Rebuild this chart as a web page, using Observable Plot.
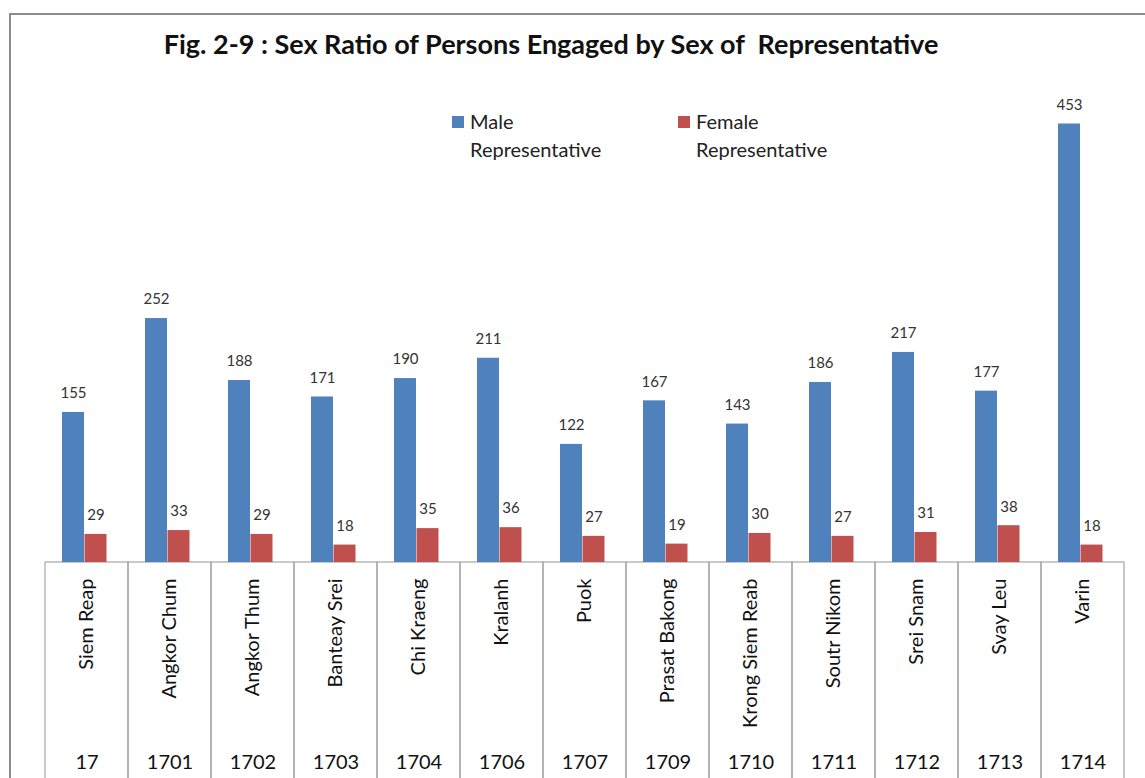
<!DOCTYPE html>
<html>
<head>
<meta charset="utf-8">
<script src="https://cdn.jsdelivr.net/npm/d3@7"></script>
<script src="https://cdn.jsdelivr.net/npm/@observablehq/plot@0.6"></script>
<style>
  html, body { margin: 0; padding: 0; background: #fff; }
  #wrap { position: relative; width: 1145px; height: 778px; overflow: hidden; font-family: Lato, "Open Sans", sans-serif; }
  #frame { position: absolute; left: 9px; top: 13px; width: 1300px; height: 900px; border-left: 2px solid #8c8c8c; border-top: 2px solid #8c8c8c; }
  #title { position: absolute; left: 0; width: 1102px; top: 27px; text-align: center; font-weight: bold; font-size: 27px; color: #111; white-space: pre; }
  .leg { position: absolute; top: 107px; font-size: 20px; color: #222; line-height: 28px; }
  .leg .sw { position: absolute; left: -18px; top: 9px; width: 12px; height: 12px; }
  #chart { position: absolute; left: 0; top: 0; }
</style>
</head>
<body>
<div id="wrap">
  <div id="frame"></div>
  <div id="chart"></div>
  <div id="title">Fig. 2-9 : Sex Ratio of Persons Engaged by Sex of  Representative</div>
  <div class="leg" id="legM" style="left:470px"><span class="sw" style="background:#4F81BD"></span>Male<br>Representative</div>
  <div class="leg" id="legF" style="left:696px"><span class="sw" style="background:#C0504D"></span>Female<br>Representative</div>
</div>
<script>
const categories = ["Siem Reap","Angkor Chum","Angkor Thum","Banteay Srei","Chi Kraeng","Kralanh","Puok","Prasat Bakong","Krong Siem Reab","Soutr Nikom","Srei Snam","Svay Leu","Varin"];
const codes = ["17","1701","1702","1703","1704","1706","1707","1709","1710","1711","1712","1713","1714"];
const male = [155,252,188,171,190,211,122,167,143,186,217,177,453];
const female = [29,33,29,18,35,36,27,19,30,27,31,38,18];

const table = categories.map((c, i) => ({cat: c, code: codes[i], male: male[i], female: female[i]}));
const codeOf = new Map(table.map(d => [d.cat, d.code]));

const chart = Plot.plot({
  width: 1145,
  height: 778,
  marginLeft: 42,
  marginRight: 18,
  marginTop: 78,
  marginBottom: 216,
  style: {fontFamily: "Lato, 'Open Sans', sans-serif", background: "transparent", overflow: "visible"},
  x: {domain: categories, padding: 0},
  y: {domain: [0, 500], axis: null},
  marks: [
    Plot.barY(categories, {x: d => d, y1: 0, y2: -260, fill: "none", stroke: "#a6a6a6", strokeWidth: 1.2}),
    Plot.barY(table, {x: "cat", y: "male", fill: "#4F81BD", insetLeft: 17, insetRight: 44}),
    Plot.barY(table, {x: "cat", y: "female", fill: "#C0504D", insetLeft: 39.5, insetRight: 21.5}),
    Plot.text(table, {x: "cat", y: "male", text: d => String(d.male), dx: -13.5, dy: -19, fontSize: 15, fill: "#333"}),
    Plot.text(table, {x: "cat", y: "female", text: d => String(d.female), dx: 9, dy: -19, fontSize: 15, fill: "#333"}),
    Plot.axisX({anchor: "bottom", tickRotate: -90, tickSize: 0, tickPadding: 16, fontSize: 20, fill: "#111", label: null}),
    Plot.axisX({anchor: "bottom", tickSize: 0, tickPadding: 192, fontSize: 20, fill: "#111", tickFormat: d => codeOf.get(d), label: null})
  ]
});
document.getElementById("chart").appendChild(chart);
</script>
</body>
</html>
